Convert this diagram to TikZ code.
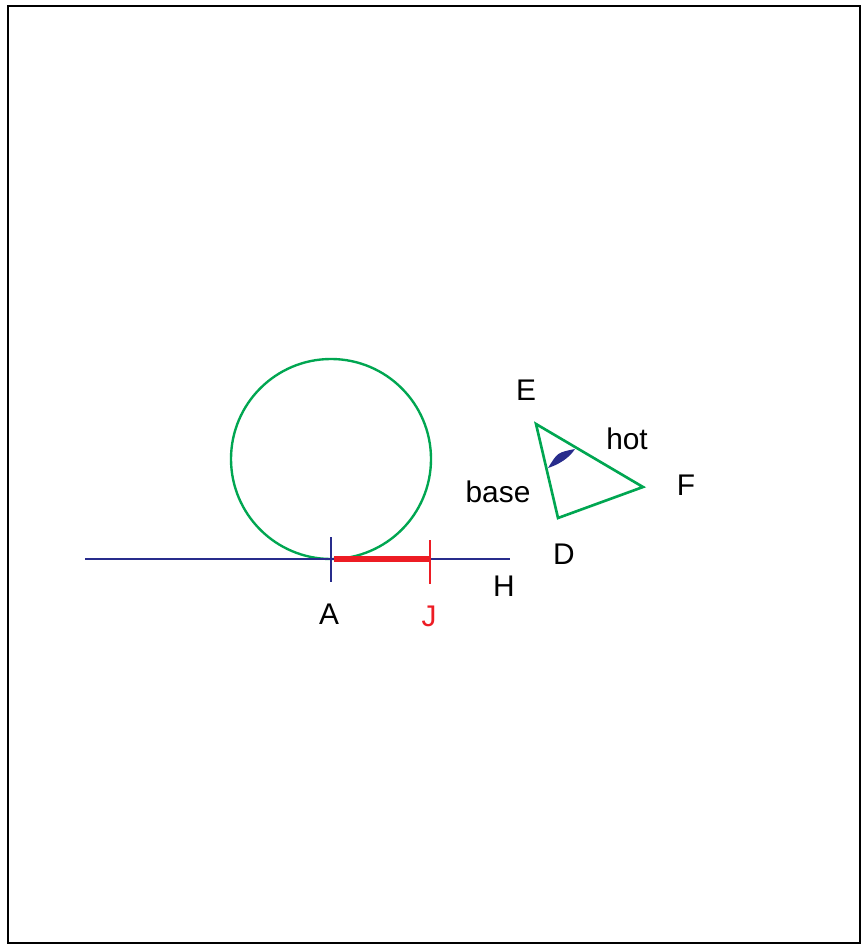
\documentclass[tikz,border=0pt]{standalone}
\usepackage{fontspec}
\setmainfont{Liberation Sans}
\definecolor{figgreen}{RGB}{0,166,81}
\definecolor{fignavy}{RGB}{40,44,140}
\definecolor{figred}{RGB}{237,28,36}
\begin{document}
\begin{tikzpicture}[
    x=0.02cm, y=-0.02cm,
    ptlabel/.style={font=\fontsize{17}{20}\selectfont, inner sep=0pt},
    greenline/.style={draw=figgreen, line width=1.35pt},
    navyline/.style={draw=fignavy, line width=1.25pt}
]
\useasboundingbox (0,0) rectangle (864,945);
\draw[line width=1.2pt] (8,6) rectangle (860,943);

% Points
\coordinate (lineL) at (85,559);
\coordinate (lineR) at (510,559);
\coordinate (ptA) at (331,559);
\coordinate (ptJ) at (430,559);
\coordinate (ctr) at (331,459);

% Circle and line
\draw[greenline] (ctr) circle[radius=100];
\draw[navyline] (lineL) -- (lineR);
\draw[draw=figred, line width=3.2pt] ([xshift=0.06cm]ptA) -- (ptJ);
\draw[navyline] ([yshift=0.44cm]ptA) -- ([yshift=-0.46cm]ptA);
\draw[draw=figred, line width=1.25pt] ([yshift=0.38cm]ptJ) -- ([yshift=-0.5cm]ptJ);

\node[ptlabel] (labA) at (329,614) {A};
\node[ptlabel, text=figred] (labJ) at (429,616) {J};
\node[ptlabel] (labH) at (504,586) {H};

% Triangle
\coordinate (ptE) at (536,424);
\coordinate (ptF) at (643,487);
\coordinate (ptD) at (558,518);
\draw[greenline, line width=1.5pt, line join=miter] (ptE) -- (ptF) -- (ptD) -- cycle;
\fill[fignavy] (548,468) .. controls (559.1,464.4) and (569.3,457.9) .. (575,449)
    .. controls (557.5,452.5) .. (548,468) -- cycle;

\node[ptlabel] (labE) at (526,390) {E};
\node[ptlabel] (labF) at (686,485) {F};
\node[ptlabel] (labD) at (564,554) {D};
\node[ptlabel] (labhot) at (627,439) {hot};
\node[ptlabel] (labbase) at (498,492) {base};
\end{tikzpicture}
\end{document}
